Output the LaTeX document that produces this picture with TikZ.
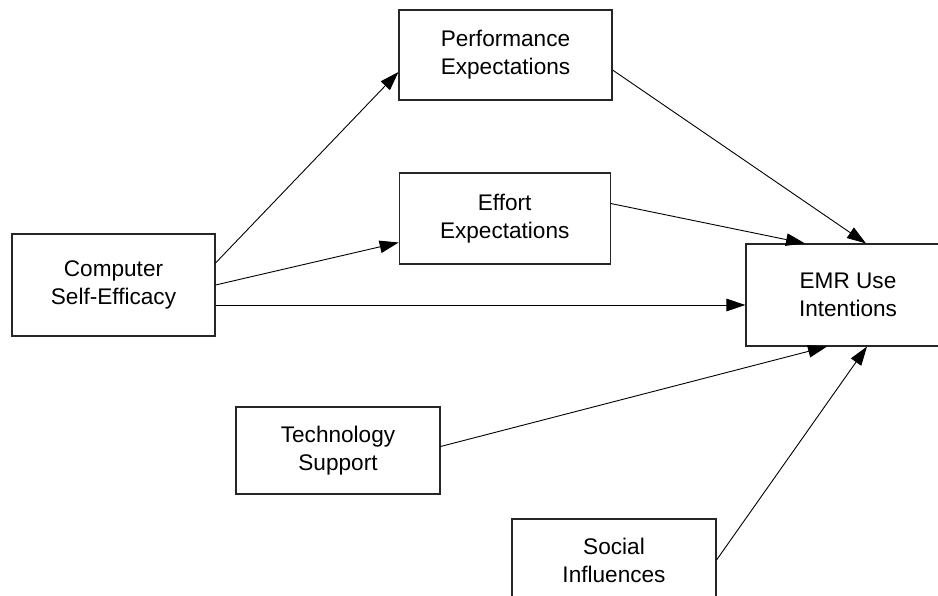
\documentclass[tikz,border=0pt]{standalone}
\usepackage{fontspec}
\setmainfont{Liberation Sans}
\usetikzlibrary{arrows.meta}
\begin{document}
\begin{tikzpicture}[x=1pt,y=-1pt,
  box/.style={draw=black!85,line width=1.1pt,rectangle,align=center,inner sep=0pt,
    font=\fontsize{22.6}{28}\selectfont},
  conn/.style={line width=0.9pt,-{Triangle[length=19pt,width=12.5pt]}}]
\path[use as bounding box,clip] (0,0) rectangle (938,596);
\fill[white] (0,0) rectangle (938,596);
\node[box,minimum width=213pt,minimum height=90pt] (perf) at (505.5,55) {Performance\\Expectations};
\node[box,minimum width=211pt,minimum height=91pt] (eff) at (504.7,218.5) {Effort\\Expectations};
\node[box,minimum width=203pt,minimum height=102pt] (cse) at (113.5,285) {Computer\\Self-Efficacy};
\node[box,minimum width=204pt,minimum height=102pt] (emr) at (848,295) {EMR Use\\Intentions};
\node[box,minimum width=204pt,minimum height=87pt] (tech) at (338,450.5) {Technology\\Support};
\node[box,minimum width=204pt,minimum height=82pt] (soc) at (614,560) {Social\\Influences};
\draw[conn] ([yshift=22pt]cse.east) -- ([yshift=-17pt]perf.west);
\draw[conn] (cse.east) -- ([yshift=-24pt]eff.west);
\coordinate (s3) at ([yshift=-20pt]cse.east);
\draw[conn] (s3) -- (emr.west |- s3);
\draw[conn] ([yshift=-15pt]perf.east) -- ([xshift=18pt]emr.north);
\draw[conn] ([yshift=15pt]eff.east) -- ([xshift=-43pt]emr.north);
\draw[conn] ([yshift=4pt]tech.east) -- ([xshift=-21pt]emr.south);
\draw[conn] (soc.east) -- ([xshift=19pt]emr.south);
\end{tikzpicture}
\end{document}
